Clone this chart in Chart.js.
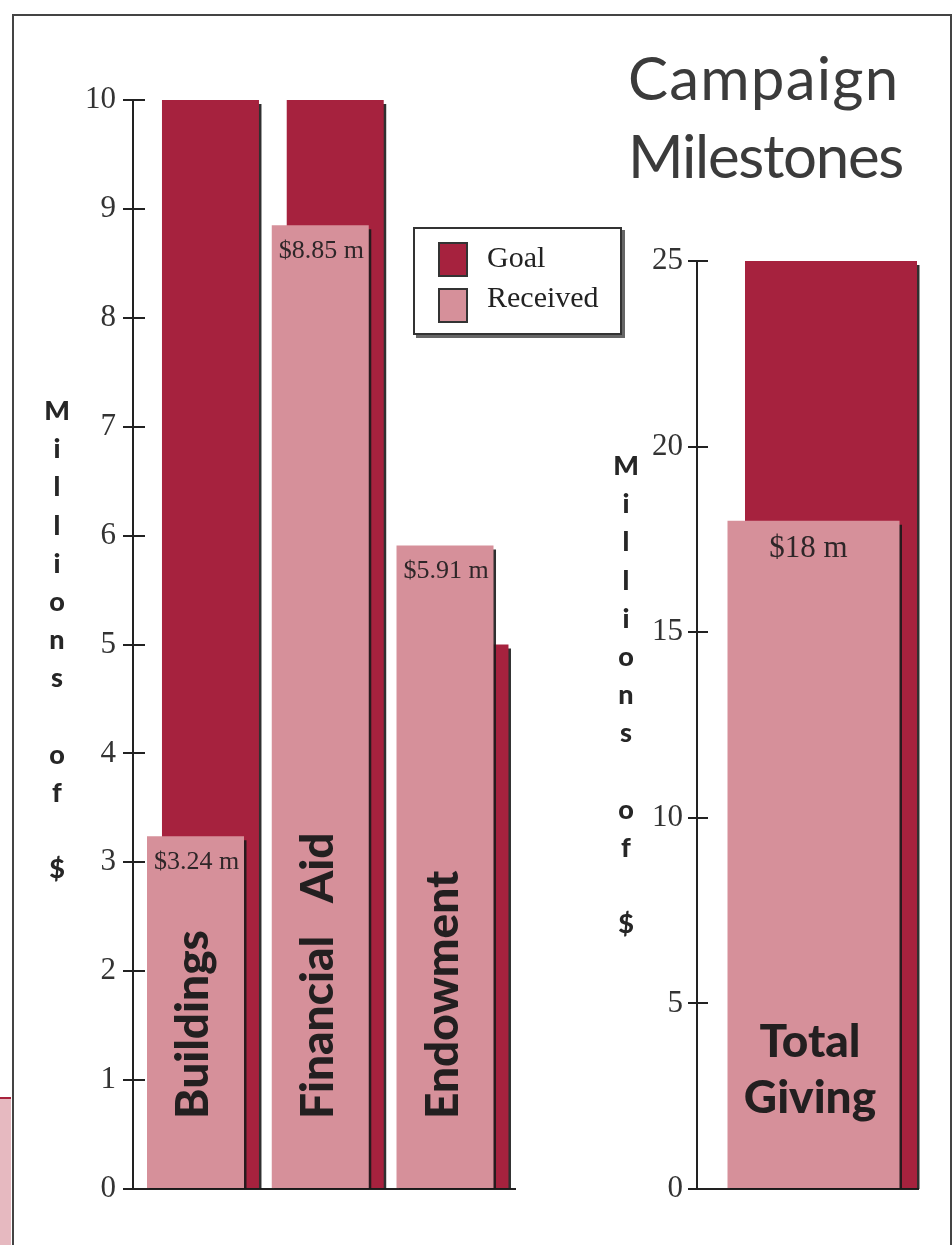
<!DOCTYPE html>
<html>
<head>
<meta charset="utf-8">
<title>Campaign Milestones</title>
<script src="https://cdn.jsdelivr.net/npm/chart.js@4.4.1/dist/chart.umd.min.js"></script>
<style>
  body { margin: 0; background: #fff; }
  #page { position: relative; width: 952px; height: 1245px; overflow: hidden; background: #fff; }
  #page canvas { position: absolute; left: 0; top: 0; }
  .frame { position: absolute; left: 12px; top: 14px; width: 936px; height: 1240px; border: 2px solid #444; border-bottom: none; }
  .scrap { position: absolute; left: 0; top: 1097px; width: 11px; height: 150px; background: #e6b9c0; border-top: 2px solid #a8223d; }
  .title { position: absolute; left: 628px; top: 38px; font-family: Lato, sans-serif; font-size: 60px; line-height: 78px; color: #3b3b3b; }
  .title .l1 { letter-spacing: 1.2px; }
  .title .l2 { letter-spacing: -1.3px; }
  .ytitle { position: absolute; width: 40px; text-align: center; font-family: Lato, sans-serif; font-weight: 900; font-size: 27px; line-height: 38.2px; color: #262626; white-space: pre; }
  .legend { position: absolute; left: 413px; top: 227px; width: 205px; height: 104px; border: 2px solid #333; background: #fff; box-shadow: 3px 3px 0 #666; font-family: 'Liberation Serif', serif; font-size: 30px; color: #222; }
  .legend .sw { position: absolute; left: 23px; width: 26px; height: 31px; border: 2px solid #333; }
  .legend .lb { position: absolute; left: 72px; line-height: 30px; }
</style>
</head>
<body>
<div id="page">
  <div class="frame"></div>
  <div class="scrap"></div>
  <canvas id="partsChart" width="952" height="1245"></canvas>
  <canvas id="totalChart" width="952" height="1245"></canvas>
  <div class="title"><span class="l1">Campaign</span><br><span class="l2">Milestones</span></div>
  <div class="ytitle" id="leftAxisTitle" style="left:37px; top:391px;"></div>
  <div class="ytitle" id="rightAxisTitle" style="left:606px; top:446px;"></div>
  <div class="legend">
    <span class="sw" id="goalSwatch" style="top:13px;"></span>
    <span class="lb" style="top:13px;">Goal</span>
    <span class="sw" id="receivedSwatch" style="top:59px;"></span>
    <span class="lb" style="top:53px;">Received</span>
  </div>
</div>
<script>
const categories = ['Buildings', 'Financial   Aid', 'Endowment'];
const goalValues = [10, 10, 5];
const receivedValues = [3.24, 8.85, 5.91];
const receivedLabels = ['$3.24 m', '$8.85 m', '$5.91 m'];

const totalCategories = ['Total Giving'];
const totalGoal = [25];
const totalReceived = [18];
const totalLabels = ['$18 m'];

const axisTitle = 'Millions of $';

const goalColor = '#a6223e';
const receivedColor = '#d6909a';

document.getElementById('goalSwatch').style.background = goalColor;
document.getElementById('receivedSwatch').style.background = receivedColor;
// one letter per line, a blank line between words
const stacked = axisTitle.split('').map(ch => ch === ' ' ? '\u00a0' : ch).join('\n');
document.getElementById('leftAxisTitle').textContent = stacked;
document.getElementById('rightAxisTitle').textContent = stacked;

// thin dark drop shadow on the right of every bar
const barShadow = {
    id: 'barShadow',
    beforeDatasetDraw(chart) {
        const ctx = chart.ctx;
        ctx.save();
        ctx.shadowColor = 'rgba(25, 25, 25, 0.9)';
        ctx.shadowOffsetX = 2.5;
        ctx.shadowOffsetY = 4;
        ctx.shadowBlur = 0;
    },
    afterDatasetDraw(chart) {
        chart.ctx.restore();
    }
};

// value on top of the received bar, category name inside it
const barText = {
    id: 'barText',
    afterDatasetsDraw(chart, args, opts) {
        const ctx = chart.ctx;
        chart.getDatasetMeta(0).data.forEach((bar, i) => {
            ctx.save();
            ctx.fillStyle = '#2e2628';
            ctx.font = opts.valueFont;
            ctx.textAlign = 'center';
            ctx.textBaseline = 'middle';
            ctx.fillText(opts.values[i], bar.x + opts.valueDx, bar.y + opts.valueDy);

            ctx.fillStyle = '#231f20';
            ctx.font = "900 46px Lato";
            ctx.textBaseline = 'alphabetic';
            if (opts.vertical) {
                ctx.translate(bar.x + 12.5, bar.base - 69);
                ctx.rotate(-Math.PI / 2);
                ctx.textAlign = 'left';
                ctx.fillText(opts.names[i], 0, 0);
            } else {
                ctx.textAlign = 'center';
                opts.names[i].split(' ').forEach((line, k) => {
                    ctx.fillText(line, bar.x - 3.5, bar.base - 131 + k * 56);
                });
            }
            ctx.restore();
        });
    }
};

// tick marks cross the axis, so add the inner half
const innerTicks = {
    id: 'innerTicks',
    afterDraw(chart, args, opts) {
        const ctx = chart.ctx;
        const y = chart.scales.y;
        ctx.save();
        ctx.strokeStyle = '#222';
        ctx.lineWidth = 2;
        y.ticks.forEach(t => {
            const py = Math.round(y.getPixelForValue(t.value));
            ctx.beginPath();
            ctx.moveTo(chart.chartArea.left, py);
            ctx.lineTo(chart.chartArea.left + opts.length, py);
            ctx.stroke();
        });
        ctx.restore();
    }
};

function milestoneChart(id, cfg) {
    const clip = { left: 10, top: 10, right: 10, bottom: 0 };
    return new Chart(document.getElementById(id), {
        type: 'bar',
        data: {
            datasets: [
                {
                    label: 'Received',
                    data: cfg.received.map((v, i) => ({ x: i, y: v })),
                    backgroundColor: receivedColor,
                    clip: clip
                },
                {
                    label: 'Goal',
                    data: cfg.goal.map((v, i) => ({ x: i, y: v })),
                    backgroundColor: goalColor,
                    clip: clip
                }
            ]
        },
        options: {
            responsive: false,
            animation: false,
            layout: { padding: { left: 0, top: cfg.top, right: cfg.right, bottom: 56 } },
            datasets: {
                bar: {
                    categoryPercentage: cfg.catPct,
                    barPercentage: 20,
                    maxBarThickness: cfg.barWidth
                }
            },
            scales: {
                x: {
                    type: 'linear',
                    offset: false,
                    min: cfg.xMin,
                    max: cfg.xMax,
                    afterBuildTicks: s => { s.ticks = cfg.names.map((n, i) => ({ value: i })); },
                    afterFit: s => { s.height = 0; },
                    ticks: { display: false },
                    grid: { display: false, drawTicks: false },
                    border: { display: true, color: '#222', width: 2 }
                },
                y: {
                    min: 0,
                    max: cfg.yMax,
                    afterFit: s => { s.width = cfg.left; },
                    ticks: {
                        stepSize: cfg.step,
                        padding: cfg.tickPad,
                        color: '#333',
                        font: { family: 'Liberation Serif', size: 31 }
                    },
                    grid: {
                        drawOnChartArea: false,
                        tickLength: cfg.tickLen,
                        tickColor: '#222',
                        lineWidth: 2
                    },
                    border: { color: '#222', width: 2 }
                }
            },
            plugins: {
                legend: { display: false },
                tooltip: { enabled: false },
                barText: {
                    values: cfg.labels,
                    names: cfg.names,
                    vertical: cfg.vertical,
                    valueFont: cfg.valueFont,
                    valueDx: cfg.valueDx,
                    valueDy: cfg.valueDy
                },
                innerTicks: { length: cfg.innerTick }
            }
        },
        plugins: [barShadow, barText, innerTicks]
    });
}

milestoneChart('partsChart', {
    names: categories, goal: goalValues, received: receivedValues, labels: receivedLabels,
    left: 133, top: 100, right: 437, yMax: 10, step: 1,
    tickLen: 10, tickPad: 7, innerTick: 12,
    xMin: -0.561, xMax: 2.501, catPct: 0.24, barWidth: 97,
    vertical: true, valueFont: "26px 'Liberation Serif'", valueDx: 1, valueDy: 26
});

milestoneChart('totalChart', {
    names: totalCategories, goal: totalGoal, received: totalReceived, labels: totalLabels,
    left: 697, top: 261, right: 34, yMax: 25, step: 5,
    tickLen: 9, tickPad: 5, innerTick: 11,
    xMin: -1, xMax: 0.7645, catPct: 0.1584, barWidth: 172,
    vertical: false, valueFont: "31px 'Liberation Serif'", valueDx: -5, valueDy: 28
});
</script>
</body>
</html>
